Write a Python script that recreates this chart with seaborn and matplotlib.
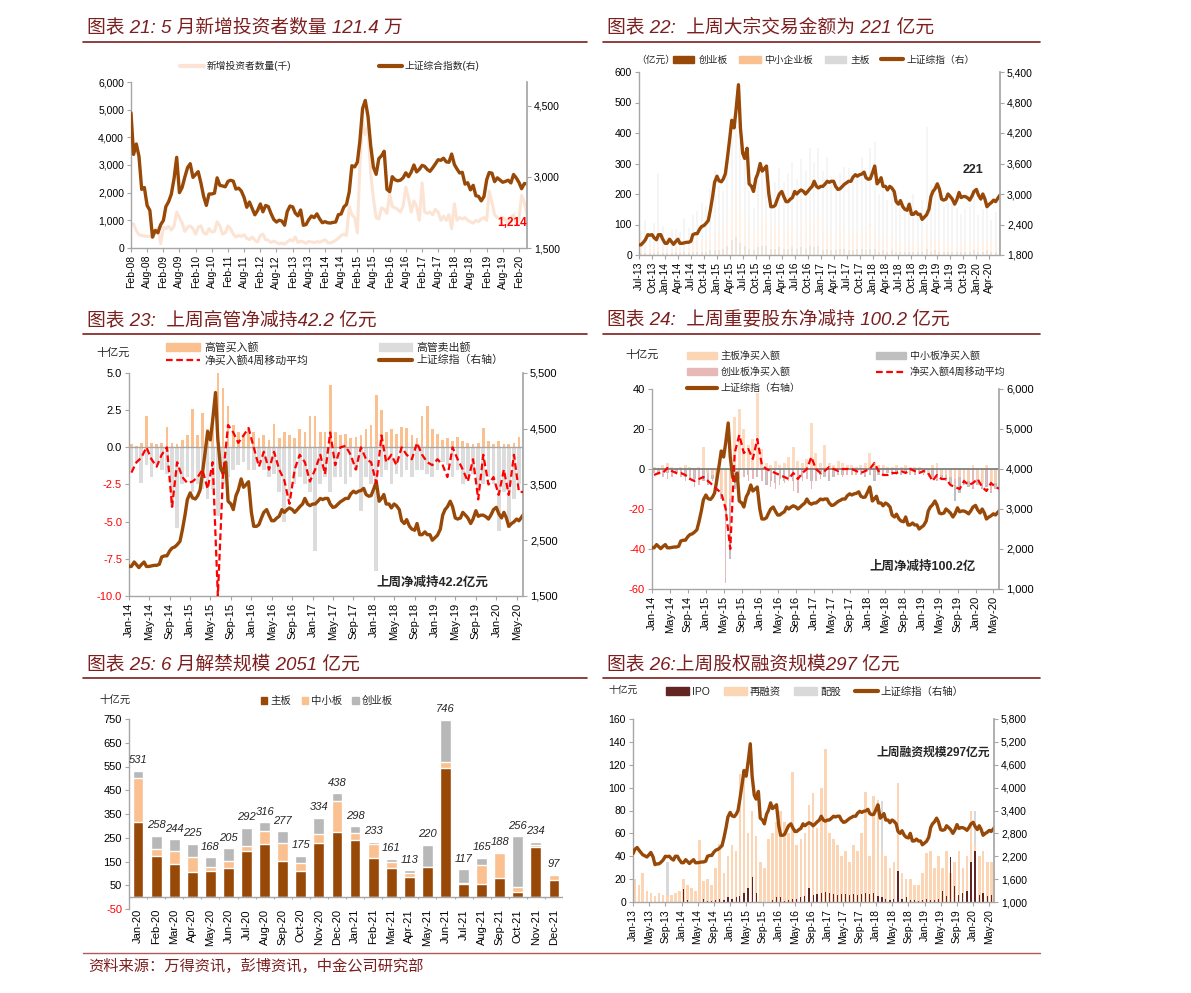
import numpy as np
import pandas as pd
import matplotlib
matplotlib.use('Agg')
import matplotlib.pyplot as plt
import matplotlib.dates as mdates
from matplotlib.lines import Line2D
from matplotlib.patches import Patch
import seaborn as sns

sns.set_theme(style='white')
plt.rcParams['font.family'] = ['Liberation Sans', 'Noto Sans CJK SC']
plt.rcParams['axes.unicode_minus'] = False

# ---------------- data ----------------
# 图表21: monthly, Feb-08 .. May-20
sse_monthly = [4348, 3473, 3693, 3433, 2736, 2775, 2397, 2293, 1729, 1871, 1821,
               1991, 2082, 2373, 2477, 2633, 2959, 3412, 2667, 2779, 2996, 3195, 3277,
               2989, 3051, 3110, 2870, 2592, 2398, 2638, 2639, 2656, 2979, 2820, 2808,
               2791, 2905, 2928, 2911, 2743, 2762, 2701, 2568, 2359, 2469, 2333, 2199,
               2292, 2428, 2263, 2397, 2373, 2225, 2103, 2047, 2086, 2069, 1980, 2269,
               2385, 2366, 2237, 2178, 2301, 1979, 1994, 2098, 2175, 2141, 2220, 2116,
               2033, 2056, 2033, 2026, 2039, 2048, 2202, 2217, 2364, 2420, 2683, 3235,
               3210, 3310, 3748, 4442, 4612, 4277, 3664, 3206, 3053, 3383, 3445, 3539,
               2738, 2688, 3004, 2938, 2917, 2930, 2979, 3085, 3005, 3100, 3250, 3104,
               3159, 3242, 3223, 3155, 3117, 3192, 3273, 3361, 3349, 3393, 3317, 3307,
               3481, 3259, 3169, 3082, 3095, 2847, 2876, 2725, 2821, 2603, 2588, 2494,
               2585, 2941, 3091, 3078, 2899, 2979, 2933, 2886, 2905, 2929, 2872, 3050,
               2977, 2880, 2750, 2860, 2852]
new_investors = [850, 870, 620, 480, 450, 430, 420, 420, 410, 600, 720,
                 150, 750, 700, 780, 650, 800, 1300, 1100, 900, 600, 750, 800,
                 700, 500, 750, 800, 550, 500, 700, 580, 600, 950, 800, 500,
                 550, 800, 700, 500, 400, 450, 420, 480, 350, 300, 400, 280,
                 220, 450, 500, 300, 280, 200, 250, 200, 150, 180, 140, 220,
                 300, 250, 400, 200, 250, 220, 170, 240, 220, 200, 230, 210,
                 250, 300, 200, 180, 220, 280, 350, 450, 500, 450, 1500, 1200,
                 1100, 550, 3000, 4600, 4100, 4400, 2700, 1800, 1100, 1050, 1450, 1400,
                 1250, 1950, 1500, 1450, 1400, 1300, 1500, 2200, 1800, 1300, 1700, 1500,
                 1000, 2350, 1300, 1250, 1300, 1200, 1400, 1300, 1000, 1150, 1000, 1200,
                 700, 1600, 1000, 1100, 1050, 1100, 1000, 950, 900, 1000, 950, 1050,
                 1100, 1000, 2050, 1650, 1200, 1100, 1050, 1100, 1000, 900, 1100, 1200,
                 900, 1050, 1900, 1650, 1214]

# 上证综指, twice a month, Jan-13 .. Jun-20
sse_semi = [2270, 2380, 2430, 2360, 2300, 2240, 2210, 2180, 2240, 2300, 2180, 1980,
            2000, 2000, 2050, 2100, 2200, 2190, 2200, 2140, 2100, 2200, 2200, 2110,
            2030, 2030, 2110, 2060, 2010, 2060, 2110, 2030, 2030, 2040, 2050, 2050,
            2070, 2200, 2220, 2220, 2310, 2360, 2380, 2420, 2480, 2680, 2950, 3230,
            3350, 3260, 3240, 3300, 3400, 3700, 4100, 4450, 4300, 4650, 5150, 4300,
            3800, 3700, 3900, 3200, 3150, 3050, 3300, 3400, 3600, 3450, 3500, 3550,
            3000, 2750, 2750, 2780, 2900, 3000, 3050, 2950, 2850, 2850, 2900, 2930,
            3050, 3000, 3050, 3080, 3050, 3000, 3050, 3100, 3150, 3250, 3150, 3120,
            3150, 3150, 3200, 3250, 3230, 3250, 3250, 3150, 3090, 3100, 3150, 3190,
            3220, 3250, 3250, 3330, 3380, 3350, 3380, 3390, 3430, 3320, 3290, 3300,
            3430, 3550, 3200, 3250, 3320, 3150, 3150, 3080, 3150, 3120, 3050, 2850,
            2800, 2870, 2750, 2700, 2680, 2800, 2600, 2600, 2650, 2600, 2600, 2500,
            2550, 2590, 2700, 2950, 3050, 3100, 3200, 3100, 2900, 2880, 2900, 3000,
            2950, 2900, 2800, 2880, 3030, 2930, 2950, 2950, 2920, 2880, 2960, 3050,
            3090, 2980, 2900, 3000, 2900, 2750, 2800, 2830, 2880, 2850, 2920, 2980]

# 图表22: block trades (亿元), monthly Jul-13 .. Jun-20
block_gem = [5, 5, 5, 5, 10, 5,
             5, 5, 10, 5, 10, 5, 10, 10, 10, 10, 15, 15,
             15, 20, 30, 50, 60, 40, 30, 20, 15, 25, 30, 30,
             20, 20, 25, 20, 20, 25, 20, 25, 20, 30, 25, 30,
             15, 20, 15, 15, 20, 20, 15, 15, 20, 20, 15, 20,
             20, 10, 15, 10, 15, 10, 10, 10, 10, 10, 10, 10,
             20, 10, 15, 10, 10, 10, 10, 10, 10, 10, 10, 15,
             10, 10, 15, 10, 10, 10]
block_sme = [15, 20, 15, 20, 30, 20,
             15, 20, 25, 20, 30, 25, 30, 35, 40, 40, 50, 60,
             60, 70, 90, 120, 150, 130, 100, 70, 50, 70, 80, 90,
             60, 70, 80, 60, 70, 80, 60, 80, 70, 90, 80, 100,
             60, 70, 60, 50, 60, 70, 60, 50, 60, 70, 60, 80,
             70, 40, 50, 40, 50, 40, 35, 30, 30, 40, 30, 40,
             60, 40, 50, 40, 30, 35, 30, 25, 25, 30, 30, 40,
             30, 30, 35, 25, 30, 30]
block_main = [60, 90, 50, 80, 230, 70,
              40, 60, 50, 50, 80, 60, 90, 100, 120, 110, 150, 200,
              150, 120, 200, 220, 230, 200, 180, 120, 90, 150, 180, 170,
              120, 150, 180, 160, 180, 200, 170, 210, 190, 230, 200, 220,
              200, 230, 180, 160, 190, 200, 210, 180, 190, 230, 200, 250,
              280, 150, 170, 130, 150, 160, 140, 120, 110, 150, 100, 130,
              340, 180, 170, 150, 120, 130, 130, 120, 100, 110, 120, 150,
              90, 110, 120, 80, 100, 110]

# 图表23: executives (十亿元), monthly Jan-14 .. Jun-20
exec_buy = [0.2, 0.1, 0.3, 2.1, 0.3, 0.2, 0.3, 1.4, 0.3, 0.2, 0.5, 0.8,
            2.6, 0.8, 2.3, 1.2, 2.0, 5.0, 4.0, 2.8, 1.5, 1.0, 0.8, 1.2,
            1.0, 0.6, 0.8, 0.5, 1.6, 0.6, 1.0, 0.8, 0.6, 1.2, 1.0, 2.1,
            2.1, 1.0, 1.0, 4.2, 1.0, 0.8, 0.9, 0.6, 0.7, 0.8, 1.2, 1.5,
            3.5, 2.5, 1.0, 1.2, 0.9, 1.4, 1.3, 0.8, 0.6, 2.1, 2.8, 1.2,
            0.9, 0.5, 0.6, 0.4, 0.7, 0.4, 0.3, 0.2, 0.3, 1.3, 0.4, 0.2,
            0.4, 0.2, 0.2, 0.3, 0.7, 0.5]
exec_sell = [-1.5, -1.0, -2.4, -1.2, -2.0, -1.2, -1.5, -1.8, -4.0, -5.4, -2.5, -2.0,
             -3.0, -2.5, -2.8, -3.5, -2.8, -4.6, -2.5, -2.0, -1.5, -1.2, -1.0, -1.5,
             -1.5, -1.0, -1.5, -2.0, -1.8, -3.0, -5.0, -3.5, -2.5, -2.0, -2.5, -3.0,
             -7.0, -2.5, -2.0, -3.0, -2.0, -2.0, -2.5, -2.0, -1.5, -4.3, -2.0, -2.5,
             -8.3, -2.0, -1.5, -2.5, -1.8, -2.0, -1.5, -2.0, -1.5, -1.5, -1.8, -2.0,
             -1.5, -1.0, -1.2, -2.0, -1.5, -2.5, -2.0, -1.8, -3.0, -2.5, -2.0, -2.5,
             -5.6, -3.0, -5.4, -3.5, -2.5, -3.5]
exec_ma = [-1.7, -1.0, -0.7, 0.0, -0.8, -1.3, -0.5, 0.0, -4.0, -1.0, -2.0, -2.4,
           -2.3, -2.0, -1.5, -2.8, -1.0, -10.0, -2.0, 1.5, 1.0, 0.3, 0.8, 1.3,
           0.0, -1.3, -0.3, -1.5, -0.3, -1.5, -2.2, -3.8, -1.5, -0.5, -1.0, -2.3,
           -1.5, -0.5, -1.8, 1.0, -1.2, 0.0, 0.1, -0.5, -1.5, 0.0, -0.8, -1.0,
           -2.4, 0.8, -1.0, -0.5, -1.2, 0.0, -0.5, -0.8, 0.3, -0.5, -1.0, -1.2,
           -0.8, -1.2, -2.0, 0.0, -0.8, -1.5, -2.3, -0.8, -3.5, -0.5, -2.5, -2.0,
           -3.2, -1.5, -3.2, -0.5, -3.0, -3.0]

# 图表24: major shareholders (十亿元), monthly Jan-14 .. Jun-20
holder_main = [1, 0.5, 2, 3, 1, 0.5, 1, 2, 1, 0.5, 1, 11,
               -2, -3, -5, -12, -18, -15, 26, 30, 20, 12, 15, 38,
               10, 3, 2, 4, 2, 3, 6, 11, 4, 3, 5, 23,
               8, 3, 12, 3, 2, 4, 3, 2, 2, 1, 2, 3,
               8, 3, 2, 2, 1, 1, 2, 1, 2, 1, 1, 1,
               -2, -2, 2, 3, -3, -3, -4, -5, -4, -5, -6, 2,
               -5, -7, 2, -6, -7, -8]
holder_sme = [-1, -2, -1, -2, -3, -2, -2, -4, -3, -5, -4, -6,
              -8, -5, -8, -15, -25, -45, -10, -5, -4, -3, -5, -4,
              -5, -8, -6, -7, -5, -6, -4, -6, -5, -4, -5, -6,
              -5, -3, -4, -6, -4, -3, -3, -2, -3, -2, -3, -4,
              -3, -6, -3, -3, -2, -3, -2, -3, -2, -2, -3, -2,
              -2, -3, -4, -6, -5, -6, -8, -16, -12, -8, -9, -10,
              -8, -10, -9, -12, -10, -9]
holder_gem = [-2, -3, -4, -5, -4, -3, -4, -6, -5, -9, -8, -4,
              -5, -6, -8, -10, -57, -30, -8, -5, -4, -6, -5, -4,
              -6, -7, -9, -10, -8, -7, -6, -11, -12, -6, -5, -10,
              -6, -5, -4, -3, -4, -3, -4, -3, -3, -3, -2, -3,
              -2, -5, -3, -3, -2, -2, -3, -2, -2, -3, -2, -2,
              -3, -4, -5, -5, -4, -6, -5, -8, -7, -6, -8, -9,
              -8, -9, -8, -11, -10, -8]
holder_ma = [-3, -2, -2, 0.5, -1, -2, -2, -3, -5, -6, -5, -4,
             -6, -8, -10, -12, -20, -40, 8, 17, 8, 10, 5, 15,
             2, 0, -1, -2, -3, -4, -5, -2, -5, -2, 0, 6,
             0, -2, -1, 1, 0, -1, 0, 0, 0, -1, -2, -1,
             0, 3, -1, -3, -3, -2, -2, -1, -2, 0, -1, -2,
             -1, -2, -6, -3, -5, -5, -8, -9, -10, -6, -8, -7,
             -5, -9, -11, -7, -9, -10]

# 图表25: lock-up expiry
unlock_months = ['Jan-20', 'Feb-20', 'Mar-20', 'Apr-20', 'May-20', 'Jun-20',
                 'Jul-20', 'Aug-20', 'Sep-20', 'Oct-20', 'Nov-20', 'Dec-20',
                 'Jan-21', 'Feb-21', 'Mar-21', 'Apr-21', 'May-21', 'Jun-21',
                 'Jul-21', 'Aug-21', 'Sep-21', 'Oct-21', 'Nov-21', 'Dec-21']
unlock_main = [316, 175, 141, 106, 108, 123, 196, 225, 153, 110, 230, 274,
               240, 163, 123, 85, 125, 544, 57, 54, 81, 20, 212, 74]
unlock_sme = [187, 27, 54, 64, 18, 30, 20, 52, 76, 33, 35, 131,
              31, 59, 24, 17, 2, 27, 3, 83, 103, 24, 7, 18]
unlock_gem = [28, 56, 49, 55, 42, 52, 76, 39, 48, 32, 69, 33,
              27, 11, 14, 11, 93, 175, 57, 28, 4, 212, 15, 5]

# 图表26: equity financing (十亿元), monthly Jan-13 .. Jun-20
fin_refi = [20, 15, 25, 10, 8, 5, 8, 6, 5, 6, 8, 10,
            20, 15, 12, 10, 54, 18, 20, 15, 30, 51, 25, 40,
            50, 45, 112, 115, 60, 80, 58, 35, 30, 55, 60, 70,
            80, 70, 60, 114, 50, 55, 60, 85, 95, 65, 100, 134,
            60, 55, 50, 40, 45, 35, 50, 45, 60, 96, 40, 93,
            89, 45, 40, 30, 35, 104, 25, 20, 20, 15, 15, 25,
            43, 45, 30, 40, 30, 45, 25, 35, 45, 30, 40, 80,
            50, 40, 45, 35, 35, 31]
fin_ipo = [0, 0, 0, 0, 0, 0, 0, 0, 0, 0, 0, 0,
           11, 2, 0, 0, 0, 3, 1, 1, 2, 3, 2, 4,
           3, 4, 5, 8, 12, 22, 8, 0, 0, 0, 2, 4,
           4, 1, 2, 3, 3, 4, 5, 12, 6, 7, 8, 9,
           8, 7, 6, 7, 7, 6, 7, 6, 7, 8, 7, 8,
           5, 4, 3, 2, 3, 27, 3, 4, 2, 2, 1, 2,
           3, 2, 2, 3, 10, 5, 39, 14, 6, 8, 10, 35,
           45, 6, 8, 5, 6, 8]
fin_rights = [0, 0, 0, 0, 0, 0, 0, 0, 35, 0, 0, 0,
              2, 0, 0, 3, 0, 0, 2, 0, 0, 0, 0, 5,
              0, 3, 0, 5, 0, 0, 0, 0, 0, 3, 0, 0,
              70, 5, 3, 0, 5, 0, 3, 0, 5, 4, 0, 3,
              2, 3, 0, 2, 0, 5, 3, 0, 3, 0, 2, 5,
              3, 88, 0, 2, 0, 0, 3, 0, 2, 0, 0, 0,
              2, 0, 3, 5, 0, 2, 0, 3, 4, 0, 3, 5,
              80, 3, 2, 5, 3, 4]

# ---------------- helpers ----------------
W, H = 1191, 993
fig = plt.figure(figsize=(W / 100, H / 100), dpi=100)

TITLE_C = '#7b1f1f'
SSE_C = '#984807'
GRAY = '#a6a6a6'
RED = '#ff0000'


def box(l, t, r, b):
    return [l / W, 1 - b / H, (r - l) / W, (b - t) / H]


def fp(x, y):
    return (x / W, 1 - y / H)


def title(x0, x1, y_text, y_line, text):
    fig.text(x0 / W + 4 / W, 1 - y_text / H, text, fontsize=13.5, color=TITLE_C,
             style='italic', ha='left', va='center')
    fig.add_artist(Line2D([x0 / W, x1 / W], [1 - y_line / H] * 2,
                          color=TITLE_C, lw=1.2))


def frame(ax, ax2=None, size=7.5):
    ax.spines['top'].set_visible(False)
    for s in ['left', 'right', 'bottom']:
        ax.spines[s].set_color(GRAY)
        ax.spines[s].set_linewidth(1.0)
    ax.tick_params(axis='both', labelsize=size, length=3, color=GRAY, width=0.8,
                   left=True, bottom=True, pad=2, labelcolor='black')
    ax.grid(False)
    ax.set_xlabel('')
    ax.set_ylabel('')
    if ax2 is not None:
        ax.spines['right'].set_visible(False)
        for s in ['top', 'left', 'bottom']:
            ax2.spines[s].set_visible(False)
        ax2.spines['right'].set_color(GRAY)
        ax2.tick_params(axis='y', labelsize=size, length=3, color=GRAY, width=0.8,
                        right=True, pad=2, labelcolor='black')
        ax2.grid(False)
        ax2.set_ylabel('')


def time_axis(ax, start, end, months):
    ax.set_xlim(pd.Timestamp(start), pd.Timestamp(end))
    ax.xaxis.set_major_locator(mdates.MonthLocator(bymonth=months))
    ax.xaxis.set_major_formatter(mdates.DateFormatter('%b-%y'))
    ax.tick_params(axis='x', labelrotation=90)


def yticks(ax, ticks, fmt, red_neg=False):
    ax.set_ylim(ticks[0], ticks[-1])
    ax.set_yticks(ticks, labels=[fmt(t) for t in ticks])
    if red_neg:
        for t, lab in zip(ticks, ax.get_yticklabels()):
            if t < 0:
                lab.set_color(RED)


comma = lambda v: f'{v:,.0f}'

d_inv = pd.date_range('2008-02-01', periods=len(new_investors), freq='MS')
d_semi = pd.date_range('2013-01-01', periods=len(sse_semi), freq='SMS')
d_block = pd.date_range('2013-07-01', periods=len(block_main), freq='MS') + pd.Timedelta(days=14)
d_exec = pd.date_range('2014-01-01', periods=len(exec_buy), freq='MS') + pd.Timedelta(days=14)
d_fin = pd.date_range('2013-01-01', periods=len(fin_refi), freq='MS') + pd.Timedelta(days=14)

# ---------------- 图表21 ----------------
title(83, 587, 27, 42, '图表 21: 5 月新增投资者数量 121.4 万')
ax1 = fig.add_axes(box(131, 82, 527, 248))
sns.lineplot(x=d_inv, y=new_investors, ax=ax1, color='#fce4d4', linewidth=2.2)
ax1b = ax1.twinx()
sns.lineplot(x=d_inv, y=sse_monthly, ax=ax1b, color=SSE_C, linewidth=2.4)
frame(ax1, ax1b)
yticks(ax1, list(range(0, 6001, 1000)), comma)
ax1b.set_ylim(1500, 5000)
ax1b.set_yticks([1500, 3000, 4500], labels=['1,500', '3,000', '4,500'])
time_axis(ax1, '2008-02-01', '2020-05-01', [2, 8])
fig.text(*fp(512, 223), '1,214', color=RED, fontsize=8.5, fontweight='bold', ha='center', va='center')
fig.legend([Line2D([], [], color='#fce4d4', lw=3), Line2D([], [], color=SSE_C, lw=3)],
           ['新增投资者数量(千)', '上证综合指数(右)'], loc='center', bbox_to_anchor=fp(330, 66),
           ncol=2, frameon=False, fontsize=7, handlelength=2.4, handletextpad=0.3, columnspacing=9)

# ---------------- 图表22 ----------------
title(603, 1040, 27, 42, '图表 22:  上周大宗交易金额为 221 亿元')
ax2 = fig.add_axes(box(639, 72, 1000, 255))
ax2.bar(d_block, block_gem, width=14, color=SSE_C, alpha=0.15, linewidth=0)
ax2.bar(d_block, block_sme, width=14, bottom=block_gem, color='#fac090', alpha=0.2, linewidth=0)
ax2.bar(d_block, block_main, width=14, bottom=np.add(block_gem, block_sme), color='#d9d9d9',
        alpha=0.25, linewidth=0)
ax2b = ax2.twinx()
sns.lineplot(x=d_semi, y=sse_semi, ax=ax2b, color=SSE_C, linewidth=2.4)
frame(ax2, ax2b)
yticks(ax2, list(range(0, 601, 100)), str)
ax2b.set_ylim(1800, 5400)
ax2b.set_yticks(list(range(1800, 5401, 600)), labels=[comma(v) for v in range(1800, 5401, 600)])
time_axis(ax2, '2013-07-01', '2020-06-15', [1, 4, 7, 10])
fig.text(*fp(973, 170), '221', fontsize=9, fontweight='bold', ha='center', va='center')
fig.text(*fp(636, 60), '（亿元）', fontsize=7, ha='left', va='center')
fig.legend([Patch(color=SSE_C), Patch(color='#fac090'), Patch(color='#d9d9d9'),
            Line2D([], [], color=SSE_C, lw=3)],
           ['创业板', '中小企业板', '主板', '上证综指（右）'], loc='center', bbox_to_anchor=fp(824, 60),
           ncol=4, frameon=False, fontsize=7, handlelength=2.2, handleheight=0.8,
           handletextpad=0.4, columnspacing=1.2)

# ---------------- 图表23 ----------------
title(83, 587, 320, 334, '图表 23:  上周高管净减持42.2 亿元')
ax3 = fig.add_axes(box(129, 373, 523, 596))
ax3.bar(d_exec, exec_sell, width=22, color='#dcdcdc', linewidth=0)
ax3.bar(d_exec, exec_buy, width=16, color='#fac090', linewidth=0)
ax3.axhline(0, color=GRAY, lw=1)
ax3b = ax3.twinx()
sns.lineplot(x=d_semi, y=sse_semi, ax=ax3b, color=SSE_C, linewidth=2.4)
ax3c = ax3.twinx()
sns.lineplot(x=d_exec, y=exec_ma, ax=ax3c, color=RED, linewidth=1.6)
ax3c.lines[-1].set_dashes((3, 1.6))
frame(ax3, ax3b, size=8)
yticks(ax3, [-10, -7.5, -5, -2.5, 0, 2.5, 5], lambda v: f'{v:.1f}', red_neg=True)
ax3c.set_ylim(-10, 5)
ax3c.axis('off')
ax3b.set_ylim(1500, 5500)
ax3b.set_yticks(list(range(1500, 5501, 1000)), labels=[comma(v) for v in range(1500, 5501, 1000)])
time_axis(ax3, '2014-01-01', '2020-06-08', [1, 5, 9])
fig.text(*fp(432, 583), '上周净减持42.2亿元', fontsize=9, fontweight='bold', ha='center', va='center')
fig.text(*fp(113, 353), '十亿元', fontsize=8, ha='center', va='center')
fig.legend([Patch(color='#fac090'), Line2D([], [], color=RED, lw=1.6, ls=(0, (3, 1.6))),
            Patch(color='#dcdcdc'), Line2D([], [], color=SSE_C, lw=3)],
           ['高管买入额', '净买入额4周移动平均', '高管卖出额', '上证综指（右轴）'],
           loc='center', bbox_to_anchor=fp(335, 354), ncol=2, frameon=False, fontsize=7.8,
           handlelength=3.1, handleheight=0.7, handletextpad=0.4, columnspacing=6.5,
           labelspacing=0.2)

# ---------------- 图表24 ----------------
title(603, 1040, 320, 334, '图表 24:  上周重要股东净减持 100.2 亿元')
ax4 = fig.add_axes(box(652, 389, 999, 589))
ax4.bar(d_exec, holder_sme, width=16, color='#bfbfbf', linewidth=0)
ax4.bar(d_exec, holder_gem, width=10, color='#e6b9b8', linewidth=0)
ax4.bar(d_exec, holder_main, width=20, color='#fcd5b5', linewidth=0, alpha=0.85)
ax4.axhline(0, color='#808080', lw=1.3)
ax4b = ax4.twinx()
sns.lineplot(x=d_semi, y=sse_semi, ax=ax4b, color=SSE_C, linewidth=2.4)
ax4c = ax4.twinx()
sns.lineplot(x=d_exec, y=holder_ma, ax=ax4c, color=RED, linewidth=1.6)
ax4c.lines[-1].set_dashes((3, 1.6))
frame(ax4, ax4b, size=8)
yticks(ax4, list(range(-60, 41, 20)), str, red_neg=True)
ax4c.set_ylim(-60, 40)
ax4c.axis('off')
ax4b.set_ylim(1000, 6000)
ax4b.set_yticks(list(range(1000, 6001, 1000)), labels=[comma(v) for v in range(1000, 6001, 1000)])
time_axis(ax4, '2014-01-01', '2020-06-08', [1, 5, 9])
fig.text(*fp(923, 567), '上周净减持100.2亿', fontsize=9, fontweight='bold', ha='center', va='center')
fig.text(*fp(642, 355), '十亿元', fontsize=8, ha='center', va='center')
fig.legend([Patch(color='#fcd5b5'), Patch(color='#e6b9b8'), Line2D([], [], color=SSE_C, lw=3),
            Patch(color='#bfbfbf'), Line2D([], [], color=RED, lw=1.6, ls=(0, (3, 1.6)))],
           ['主板净买入额', '创业板净买入额', '上证综指（右轴）', '中小板净买入额', '净买入额4周移动平均'],
           loc='center', bbox_to_anchor=fp(846, 372), ncol=2, frameon=False, fontsize=7.2,
           handlelength=3.0, handleheight=0.7, handletextpad=0.4, columnspacing=7.5,
           labelspacing=0.6)

# ---------------- 图表25 ----------------
title(83, 587, 664, 678, '图表 25: 6 月解禁规模 2051 亿元')
ax5 = fig.add_axes(box(129, 719, 563, 909))
unlock_total = np.add(np.add(unlock_main, unlock_sme), unlock_gem)
sns.barplot(x=unlock_months, y=unlock_total, ax=ax5, color='#b8b8b8', width=0.6,
            saturation=1, errorbar=None, order=unlock_months)
sns.barplot(x=unlock_months, y=np.add(unlock_main, unlock_sme), ax=ax5, color='#fac090',
            width=0.6, saturation=1, errorbar=None, order=unlock_months)
sns.barplot(x=unlock_months, y=unlock_main, ax=ax5, color='#984807', width=0.6,
            saturation=1, errorbar=None, order=unlock_months)
frame(ax5, size=8)
ax5.spines['right'].set_visible(False)
ax5.spines['bottom'].set_visible(False)
ax5.axhline(0, color=GRAY, lw=1)
ax5.vlines(np.arange(len(unlock_months) + 1) - 0.5, -7, 0, color=GRAY, lw=0.8)
ax5.set_xlim(-0.5, len(unlock_months) - 0.5)
yticks(ax5, list(range(-50, 751, 100)), str, red_neg=True)
ax5.tick_params(axis='x', labelrotation=90, length=0, pad=0, labelsize=8)
for i, t in enumerate(unlock_total):
    ax5.annotate(f'{t}', (i, t), xytext=(0, 4), textcoords='offset points', ha='center',
                 va='bottom', fontsize=8, style='italic')
fig.text(*fp(115, 700), '十亿元', fontsize=7.5, ha='center', va='center')
fig.legend([Patch(color='#984807'), Patch(color='#fac090'), Patch(color='#b8b8b8')],
           ['主板', '中小板', '创业板'], loc='center', bbox_to_anchor=fp(327, 701), ncol=3,
           frameon=False, fontsize=7.5, handlelength=0.6, handleheight=0.6, handletextpad=0.3,
           columnspacing=1.0)

# ---------------- 图表26 ----------------
title(603, 1040, 664, 678, '图表 26:上周股权融资规模297 亿元')
ax6 = fig.add_axes(box(633, 719, 994, 902))
ax6.bar(d_fin, fin_rights, width=20, color='#d9d9d9', linewidth=0)
ax6.bar(d_fin, fin_refi, width=20, color='#fcd5b5', linewidth=0)
ax6.bar(d_fin, fin_ipo, width=9, color='#632523', linewidth=0)
ax6b = ax6.twinx()
sns.lineplot(x=d_semi, y=sse_semi, ax=ax6b, color=SSE_C, linewidth=2.4)
frame(ax6, ax6b)
yticks(ax6, list(range(0, 161, 20)), str)
ax6b.set_ylim(1000, 5800)
ax6b.set_yticks(list(range(1000, 5801, 600)), labels=[comma(v) for v in range(1000, 5801, 600)])
time_axis(ax6, '2013-01-01', '2020-06-05', [1, 5, 9])
fig.text(*fp(933, 753), '上周融资规模297亿元', fontsize=8.5, fontweight='bold', ha='center', va='center')
fig.text(*fp(623, 690), '十亿元', fontsize=7, ha='center', va='center')
fig.legend([Patch(color='#632523'), Patch(color='#fcd5b5'), Patch(color='#d9d9d9'),
            Line2D([], [], color=SSE_C, lw=3)],
           ['IPO', '再融资', '配股', '上证综指（右轴）'], loc='center', bbox_to_anchor=fp(815, 692),
           ncol=4, frameon=False, fontsize=7.5, handlelength=2.2, handleheight=0.8,
           handletextpad=0.3, columnspacing=1.3)

# ---------------- footer ----------------
fig.add_artist(Line2D([83 / W, 1040 / W], [1 - 953 / H] * 2, color='#b05a5a', lw=1))
fig.text(*fp(88, 966), '资料来源：万得资讯，彭博资讯，中金公司研究部', fontsize=11, color=TITLE_C,
         style='italic', ha='left', va='center')

fig.savefig('out.png', dpi=100)
